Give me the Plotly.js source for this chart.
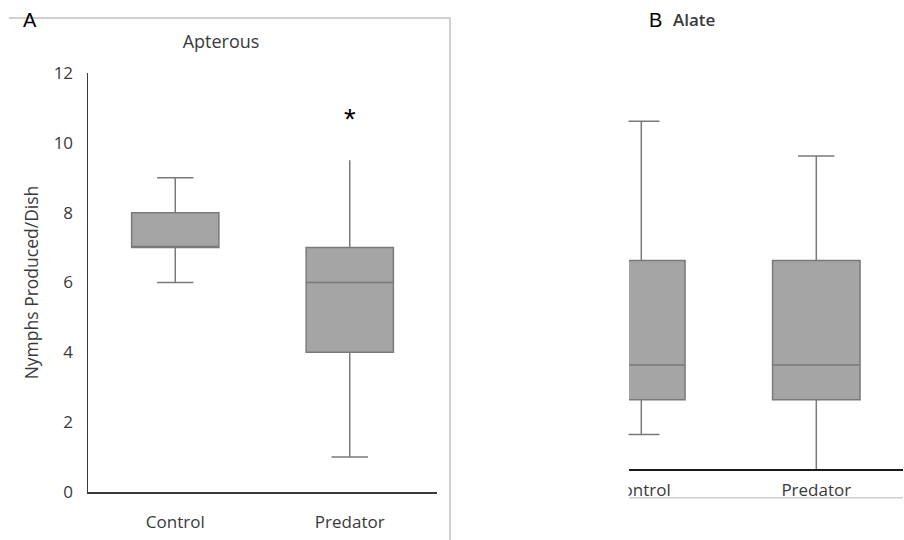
<!DOCTYPE html>
<html>
<head>
<meta charset="utf-8">
<script src="https://cdn.plot.ly/plotly-3.0.1.min.js"></script>
<style>html,body{margin:0;padding:0;background:#fff;}#chart{width:904px;height:540px;}</style>
</head>
<body>
<div id="chart"></div>
<script>
// ---- data ----
const categories = ['Control', 'Predator'];

// Panel A: Apterous
const aptLower  = [6, 1];
const aptQ1     = [7, 4];
const aptMedian = [7, 6];
const aptQ3     = [8, 7];
const aptUpper  = [9, 9.5];
const aptCapLower = [true, true];
const aptCapUpper = [true, false];
const aptSignif = ['', '*'];

// Panel B: Alate
const alaLower  = [1, 0];
const alaQ1     = [2, 2];
const alaMedian = [3, 3];
const alaQ3     = [6, 6];
const alaUpper  = [10, 9];
const alaCapLower = [true, false];
const alaCapUpper = [true, true];

// ---- styles ----
const FILL = '#a5a5a5';
const EDGE = '#7a7a7a';
const TXT = '#3a3a3a';
const FONT = 'Open Sans, sans-serif';
const W = 904, H = 540;

function boxTrace(lo, q1, med, q3, up, xa, ya) {
  return {
    type: 'box', x: categories, q1: q1, median: med, q3: q3,
    lowerfence: lo, upperfence: up,
    fillcolor: FILL, line: {color: EDGE, width: 1.5},
    width: 0.5, whiskerwidth: 0, boxpoints: false,
    xaxis: xa, yaxis: ya, showlegend: false, hoverinfo: 'skip'
  };
}
function capTrace(lo, up, capLo, capUp, xa, ya) {
  const xs = [], ys = [];
  categories.forEach((c, i) => {
    if (capLo[i]) { xs.push(c); ys.push(lo[i]); }
    if (capUp[i]) { xs.push(c); ys.push(up[i]); }
  });
  return {
    type: 'scatter', mode: 'markers', x: xs, y: ys,
    marker: {symbol: 'line-ew', size: 26, color: EDGE, line: {color: EDGE, width: 1.5}},
    xaxis: xa, yaxis: ya, showlegend: false, hoverinfo: 'skip', cliponaxis: false
  };
}

const data = [
  boxTrace(aptLower, aptQ1, aptMedian, aptQ3, aptUpper, 'x', 'y'),
  capTrace(aptLower, aptUpper, aptCapLower, aptCapUpper, 'x', 'y'),
  boxTrace(alaLower, alaQ1, alaMedian, alaQ3, alaUpper, 'x2', 'y2'),
  capTrace(alaLower, alaUpper, alaCapLower, alaCapUpper, 'x2', 'y2')
];

// significance annotations from data
const annotations = [];
categories.forEach((c, i) => {
  if (aptSignif[i]) {
    annotations.push({xref: 'x', yref: 'y', x: c, y: aptUpper[i] + 1.2, text: aptSignif[i],
      xanchor: 'center', yanchor: 'middle', showarrow: false,
      font: {family: 'Liberation Sans, Arial', size: 30, color: '#000'}});
  }
});
annotations.push(
  {xref: 'paper', yref: 'paper', x: 30 / W, y: 1 - 20 / H, xanchor: 'center', yanchor: 'middle',
   text: 'A', showarrow: false, font: {family: 'Liberation Sans, Arial', size: 20, color: '#000'}},
  {xref: 'paper', yref: 'paper', x: 655 / W, y: 1 - 20 / H, xanchor: 'center', yanchor: 'middle',
   text: 'B', showarrow: false, font: {family: 'Liberation Sans, Arial', size: 20, color: '#000'}},
  {xref: 'paper', yref: 'paper', x: 671 / W, y: 1 - 19 / H, xanchor: 'left', yanchor: 'middle',
   text: 'Alate', showarrow: false, font: {family: FONT, size: 17, color: TXT, weight: 600}}
);

const gray = '#d0d0d0';
const layout = {
  width: W, height: H,
  margin: {l: 0, r: 0, t: 0, b: 0},
  paper_bgcolor: '#fff', plot_bgcolor: 'rgba(0,0,0,0)',
  showlegend: false,
  title: {text: 'Apterous', x: 221 / W, y: 1 - 42 / H, xanchor: 'center', yanchor: 'middle',
          font: {family: FONT, size: 18, color: TXT}},
  xaxis: {domain: [88 / W, 437 / W], type: 'category', range: [-0.5, 1.5],
          showline: true, linecolor: TXT, linewidth: 1.5, ticks: '', showgrid: false, zeroline: false,
          tickfont: {family: FONT, size: 17, color: TXT}, ticklabelstandoff: 14, fixedrange: true},
  yaxis: {domain: [1 - 492 / H, 1 - 73 / H], range: [0, 12], dtick: 2,
          showline: true, linecolor: TXT, linewidth: 1.5, ticks: '', showgrid: false, zeroline: false,
          tickfont: {family: FONT, size: 17, color: TXT}, ticklabelstandoff: 10,
          title: {text: 'Nymphs Produced/Dish', standoff: 10, font: {family: FONT, size: 17.5, color: TXT}},
          fixedrange: true},
  xaxis2: {domain: [629 / W, 903 / W], type: 'category', anchor: 'y2',
           range: [-(641.3 - 629) / 175, 1 + (903 - 816.3) / 175],
           showline: true, linecolor: '#1a1a1a', linewidth: 1.5, ticks: '', showgrid: false, zeroline: false,
           tickfont: {family: FONT, size: 17, color: TXT}, ticklabelstandoff: 5, fixedrange: true},
  yaxis2: {domain: [1 - 469.3 / H, 1 - (469.3 - 12 * 34.8) / H], range: [0, 12], anchor: 'x2',
           visible: false, fixedrange: true},
  annotations: annotations,
  shapes: [
    {type: 'line', xref: 'paper', yref: 'paper', x0: 9 / W, x1: 451 / W, y0: 1 - 18 / H, y1: 1 - 18 / H,
     line: {color: gray, width: 2}, layer: 'below'},
    {type: 'line', xref: 'paper', yref: 'paper', x0: 450 / W, x1: 450 / W, y0: 1 - 18 / H, y1: 0,
     line: {color: gray, width: 2}, layer: 'below'},
    {type: 'line', xref: 'paper', yref: 'paper', x0: 629 / W, x1: 903 / W, y0: 1 - 497.7 / H, y1: 1 - 497.7 / H,
     line: {color: gray, width: 1.5}, layer: 'below'},
    {type: 'rect', xref: 'paper', yref: 'paper', x0: 540 / W, x1: 628.5 / W, y0: 1 - 500 / H, y1: 1 - 40 / H,
     fillcolor: '#fff', line: {width: 0}, layer: 'above'}
  ]
};

Plotly.newPlot('chart', data, layout, {staticPlot: true, displayModeBar: false});
</script>
</body>
</html>
